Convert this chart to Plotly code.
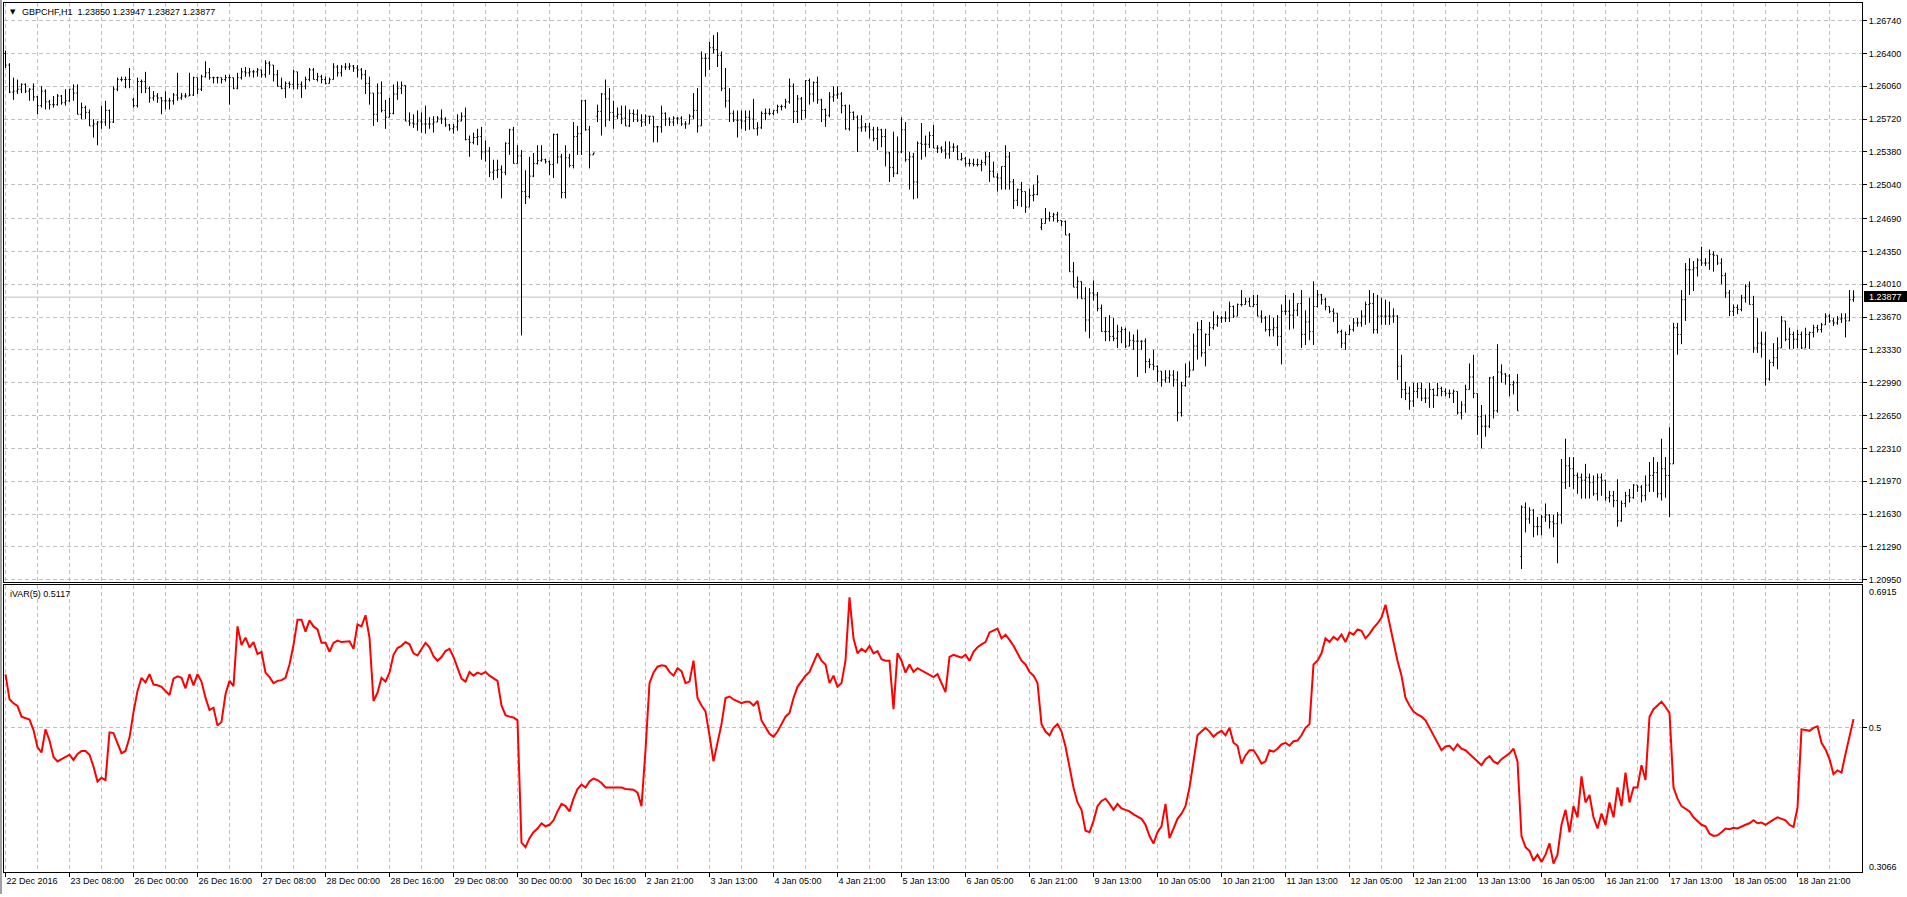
import plotly.graph_objects as go

W, H = 1907, 897

# ---------------- data ----------------
symbol_title = "GBPCHF,H1  1.23850 1.23947 1.23827 1.23877"
indicator_title = "iVAR(5) 0.5117"
last_price = 1.23877

x_tick_labels = ["22 Dec 2016", "23 Dec 08:00", "26 Dec 00:00", "26 Dec 16:00", "27 Dec 08:00",
                 "28 Dec 00:00", "28 Dec 16:00", "29 Dec 08:00", "30 Dec 00:00", "30 Dec 16:00",
                 "2 Jan 21:00", "3 Jan 13:00", "4 Jan 05:00", "4 Jan 21:00", "5 Jan 13:00",
                 "6 Jan 05:00", "6 Jan 21:00", "9 Jan 13:00", "10 Jan 05:00", "10 Jan 21:00",
                 "11 Jan 13:00", "12 Jan 05:00", "12 Jan 21:00", "13 Jan 13:00", "16 Jan 05:00",
                 "16 Jan 21:00", "17 Jan 13:00", "18 Jan 05:00", "18 Jan 21:00"]

price_tick_labels = ["1.26740", "1.26400", "1.26060", "1.25720", "1.25380", "1.25040",
                     "1.24690", "1.24350", "1.24010", "1.23670", "1.23330", "1.22990",
                     "1.22650", "1.22310", "1.21970", "1.21630", "1.21290", "1.20950"]

ind_max, ind_mid, ind_min = 0.6915, 0.5, 0.3066

open_ = [
    1.2640, 1.2628, 1.2600, 1.2601, 1.2603, 1.2608, 1.2601, 1.2603, 1.2595, 1.2586,
    1.2601, 1.2590, 1.2587, 1.2587, 1.2596, 1.2589, 1.2591, 1.2603, 1.2599, 1.2577,
    1.2584, 1.2579, 1.2565, 1.2567, 1.2569, 1.2569, 1.2581, 1.2569, 1.2603, 1.2613,
    1.2613, 1.2613, 1.2592, 1.2586, 1.2611, 1.2611, 1.2604, 1.2594, 1.2596, 1.2594,
    1.2591, 1.2591, 1.2591, 1.2597, 1.2594, 1.2596, 1.2596, 1.2597, 1.2615, 1.2603,
    1.2616, 1.2620, 1.2615, 1.2615, 1.2615, 1.2613, 1.2615, 1.2615, 1.2604, 1.2615,
    1.2621, 1.2620, 1.2621, 1.2621, 1.2623, 1.2618, 1.2630, 1.2628, 1.2618, 1.2606,
    1.2604, 1.2609, 1.2608, 1.2621, 1.2608, 1.2606, 1.2613, 1.2623, 1.2613, 1.2616,
    1.2613, 1.2609, 1.2613, 1.2626, 1.2620, 1.2626, 1.2626, 1.2627, 1.2625, 1.2623,
    1.2618, 1.2609, 1.2599, 1.2577, 1.2599, 1.2581, 1.2574, 1.2578, 1.2598, 1.2604,
    1.2607, 1.2570, 1.2568, 1.2567, 1.2570, 1.2567, 1.2567, 1.2567, 1.2569, 1.2573,
    1.2572, 1.2566, 1.2562, 1.2564, 1.2570, 1.2575, 1.2551, 1.2548, 1.2553, 1.2554,
    1.2538, 1.2539, 1.2517, 1.2519, 1.2520, 1.2517, 1.2547, 1.2561, 1.2526, 1.2534,
    1.2497, 1.2492, 1.2513, 1.2526, 1.2529, 1.2530, 1.2528, 1.2525, 1.2556, 1.2533,
    1.2496, 1.2532, 1.2524, 1.2554, 1.2557, 1.2591, 1.2561, 1.2535, 1.2575, 1.2580,
    1.2598, 1.2593, 1.2579, 1.2575, 1.2577, 1.2573, 1.2565, 1.2578, 1.2577, 1.2571,
    1.2569, 1.2575, 1.2575, 1.2564, 1.2564, 1.2578, 1.2572, 1.2569, 1.2573, 1.2573,
    1.2567, 1.2567, 1.2575, 1.2581, 1.2565, 1.2635, 1.2635, 1.2646, 1.2644, 1.2638,
    1.2604, 1.2591, 1.2578, 1.2571, 1.2571, 1.2570, 1.2574, 1.2572, 1.2562, 1.2563,
    1.2578, 1.2578, 1.2578, 1.2581, 1.2585, 1.2585, 1.2590, 1.2606, 1.2580, 1.2593,
    1.2581, 1.2612, 1.2598, 1.2610, 1.2592, 1.2582, 1.2576, 1.2595, 1.2597, 1.2598,
    1.2586, 1.2562, 1.2579, 1.2574, 1.2563, 1.2564, 1.2564, 1.2561, 1.2552, 1.2561,
    1.2554, 1.2537, 1.2522, 1.2516, 1.2538, 1.2561, 1.2530, 1.2533, 1.2507, 1.2547,
    1.2546, 1.2546, 1.2555, 1.2542, 1.2542, 1.2540, 1.2536, 1.2543, 1.2543, 1.2530,
    1.2531, 1.2526, 1.2526, 1.2525, 1.2525, 1.2527, 1.2533, 1.2518, 1.2512, 1.2511,
    1.2523, 1.2533, 1.2507, 1.2488, 1.2499, 1.2497, 1.2481, 1.2493, 1.2494, 1.2460,
    1.2464, 1.2469, 1.2471, 1.2473, 1.2467, 1.2466, 1.2452, 1.2414, 1.2398, 1.2404,
    1.2386, 1.2364, 1.2392, 1.2390, 1.2376, 1.2352, 1.2352, 1.2347, 1.2345, 1.2352,
    1.2354, 1.2337, 1.2343, 1.2342, 1.2342, 1.2342, 1.2321, 1.2318, 1.2316, 1.2311,
    1.2302, 1.2304, 1.2307, 1.2302, 1.2268, 1.2296, 1.2305, 1.2312, 1.2337, 1.2354,
    1.2330, 1.2349, 1.2356, 1.2359, 1.2366, 1.2366, 1.2366, 1.2378, 1.2368, 1.2380,
    1.2380, 1.2383, 1.2378, 1.2380, 1.2368, 1.2366, 1.2354, 1.2354, 1.2356, 1.2347,
    1.2373, 1.2373, 1.2369, 1.2374, 1.2381, 1.2349, 1.2362, 1.2352, 1.2378, 1.2390,
    1.2385, 1.2378, 1.2373, 1.2371, 1.2352, 1.2340, 1.2349, 1.2354, 1.2361, 1.2361,
    1.2368, 1.2380, 1.2381, 1.2354, 1.2368, 1.2368, 1.2368, 1.2368, 1.2368, 1.2316,
    1.2292, 1.2288, 1.2280, 1.2290, 1.2293, 1.2283, 1.2283, 1.2292, 1.2286, 1.2293,
    1.2290, 1.2288, 1.2288, 1.2290, 1.2268, 1.2276, 1.2292, 1.2305, 1.2288, 1.2264,
    1.2254, 1.2254, 1.2304, 1.2270, 1.2310, 1.2308, 1.2306, 1.2297, 1.2299, 1.2119,
    1.2170, 1.2158, 1.2167, 1.2150, 1.2150, 1.2160, 1.2162, 1.2155, 1.2153, 1.2162,
    1.2196, 1.2213, 1.2210, 1.2203, 1.2201, 1.2198, 1.2201, 1.2196, 1.2184, 1.2201,
    1.2198, 1.2180, 1.2182, 1.2177, 1.2156, 1.2174, 1.2182, 1.2180, 1.2193, 1.2191,
    1.2182, 1.2193, 1.2203, 1.2206, 1.2184, 1.2210, 1.2203, 1.2215, 1.2356, 1.2349,
    1.2385, 1.2416, 1.2416, 1.2418, 1.2426, 1.2423, 1.2423, 1.2432, 1.2431, 1.2423,
    1.2410, 1.2392, 1.2373, 1.2377, 1.2375, 1.2387, 1.2399, 1.2380, 1.2335, 1.2340,
    1.2339, 1.2303, 1.2320, 1.2325, 1.2335, 1.2363, 1.2344, 1.2349, 1.2344, 1.2349,
    1.2335, 1.2349, 1.2351, 1.2356, 1.2354, 1.2359, 1.2368, 1.2363, 1.2361, 1.2365,
    1.2366, 1.2363, 1.2385,
]

high = [
    1.2643, 1.2630, 1.2615, 1.2613, 1.2609, 1.2609, 1.2604, 1.2609, 1.2596, 1.2606,
    1.2603, 1.2592, 1.2596, 1.2598, 1.2597, 1.2603, 1.2603, 1.2608, 1.2608, 1.2589,
    1.2586, 1.2582, 1.2572, 1.2570, 1.2586, 1.2591, 1.2582, 1.2606, 1.2615, 1.2616,
    1.2616, 1.2625, 1.2594, 1.2615, 1.2613, 1.2621, 1.2606, 1.2601, 1.2599, 1.2595,
    1.2601, 1.2594, 1.2599, 1.2620, 1.2599, 1.2599, 1.2620, 1.2616, 1.2615, 1.2618,
    1.2632, 1.2625, 1.2616, 1.2616, 1.2615, 1.2618, 1.2618, 1.2615, 1.2620, 1.2625,
    1.2626, 1.2625, 1.2623, 1.2625, 1.2623, 1.2633, 1.2632, 1.2628, 1.2623, 1.2615,
    1.2611, 1.2611, 1.2623, 1.2621, 1.2611, 1.2616, 1.2625, 1.2625, 1.2620, 1.2618,
    1.2616, 1.2615, 1.2630, 1.2628, 1.2628, 1.2630, 1.2630, 1.2628, 1.2628, 1.2625,
    1.2623, 1.2616, 1.2599, 1.2609, 1.2611, 1.2592, 1.2594, 1.2608, 1.2611, 1.2611,
    1.2607, 1.2579, 1.2577, 1.2581, 1.2579, 1.2586, 1.2574, 1.2575, 1.2575, 1.2582,
    1.2574, 1.2567, 1.2567, 1.2577, 1.2579, 1.2584, 1.2555, 1.2558, 1.2562, 1.2564,
    1.2550, 1.2543, 1.2530, 1.2530, 1.2524, 1.2548, 1.2562, 1.2564, 1.2545, 1.2540,
    1.2519, 1.2533, 1.2537, 1.2545, 1.2545, 1.2531, 1.2529, 1.2557, 1.2557, 1.2536,
    1.2545, 1.2536, 1.2569, 1.2565, 1.2592, 1.2592, 1.2565, 1.2537, 1.2587, 1.2599,
    1.2613, 1.2604, 1.2591, 1.2584, 1.2586, 1.2586, 1.2582, 1.2582, 1.2582, 1.2577,
    1.2577, 1.2575, 1.2575, 1.2565, 1.2586, 1.2579, 1.2574, 1.2575, 1.2574, 1.2575,
    1.2570, 1.2577, 1.2599, 1.2604, 1.2642, 1.2640, 1.2652, 1.2659, 1.2662, 1.2642,
    1.2625, 1.2604, 1.2581, 1.2581, 1.2581, 1.2581, 1.2581, 1.2593, 1.2569, 1.2580,
    1.2583, 1.2583, 1.2581, 1.2587, 1.2587, 1.2593, 1.2614, 1.2609, 1.2597, 1.2595,
    1.2612, 1.2614, 1.2611, 1.2616, 1.2593, 1.2583, 1.2600, 1.2606, 1.2606, 1.2600,
    1.2587, 1.2587, 1.2580, 1.2576, 1.2576, 1.2568, 1.2568, 1.2564, 1.2564, 1.2562,
    1.2562, 1.2538, 1.2559, 1.2554, 1.2574, 1.2569, 1.2538, 1.2537, 1.2549, 1.2568,
    1.2555, 1.2559, 1.2566, 1.2545, 1.2544, 1.2549, 1.2549, 1.2547, 1.2545, 1.2537,
    1.2533, 1.2531, 1.2531, 1.2531, 1.2530, 1.2538, 1.2538, 1.2528, 1.2516, 1.2523,
    1.2545, 1.2538, 1.2510, 1.2500, 1.2507, 1.2497, 1.2500, 1.2504, 1.2514, 1.2469,
    1.2480, 1.2476, 1.2475, 1.2476, 1.2467, 1.2467, 1.2454, 1.2424, 1.2409, 1.2404,
    1.2398, 1.2397, 1.2405, 1.2393, 1.2380, 1.2367, 1.2369, 1.2366, 1.2359, 1.2357,
    1.2356, 1.2352, 1.2349, 1.2354, 1.2343, 1.2345, 1.2324, 1.2333, 1.2317, 1.2311,
    1.2312, 1.2312, 1.2312, 1.2311, 1.2300, 1.2319, 1.2321, 1.2350, 1.2362, 1.2364,
    1.2350, 1.2362, 1.2373, 1.2369, 1.2368, 1.2373, 1.2383, 1.2379, 1.2381, 1.2395,
    1.2387, 1.2387, 1.2390, 1.2390, 1.2374, 1.2368, 1.2369, 1.2366, 1.2369, 1.2380,
    1.2390, 1.2385, 1.2392, 1.2381, 1.2395, 1.2374, 1.2387, 1.2404, 1.2395, 1.2391,
    1.2387, 1.2378, 1.2376, 1.2371, 1.2354, 1.2352, 1.2359, 1.2366, 1.2366, 1.2374,
    1.2383, 1.2395, 1.2392, 1.2390, 1.2387, 1.2385, 1.2383, 1.2376, 1.2369, 1.2328,
    1.2300, 1.2295, 1.2299, 1.2299, 1.2299, 1.2293, 1.2299, 1.2293, 1.2299, 1.2295,
    1.2293, 1.2292, 1.2292, 1.2290, 1.2280, 1.2297, 1.2319, 1.2328, 1.2288, 1.2276,
    1.2266, 1.2305, 1.2306, 1.2339, 1.2318, 1.2309, 1.2308, 1.2301, 1.2308, 1.2172,
    1.2175, 1.2170, 1.2168, 1.2160, 1.2162, 1.2174, 1.2163, 1.2162, 1.2165, 1.2220,
    1.2241, 1.2222, 1.2222, 1.2206, 1.2205, 1.2215, 1.2205, 1.2203, 1.2205, 1.2205,
    1.2198, 1.2187, 1.2187, 1.2199, 1.2177, 1.2186, 1.2189, 1.2194, 1.2193, 1.2193,
    1.2203, 1.2217, 1.2222, 1.2217, 1.2241, 1.2222, 1.2253, 1.2361, 1.2361, 1.2395,
    1.2423, 1.2428, 1.2425, 1.2428, 1.2440, 1.2428, 1.2437, 1.2435, 1.2431, 1.2428,
    1.2413, 1.2395, 1.2380, 1.2380, 1.2390, 1.2401, 1.2404, 1.2389, 1.2366, 1.2352,
    1.2352, 1.2323, 1.2340, 1.2346, 1.2368, 1.2363, 1.2356, 1.2352, 1.2354, 1.2352,
    1.2356, 1.2352, 1.2359, 1.2359, 1.2361, 1.2371, 1.2370, 1.2366, 1.2368, 1.2371,
    1.2371, 1.2395, 1.23947,
]

low = [
    1.2625, 1.2599, 1.2592, 1.2598, 1.2599, 1.2599, 1.2591, 1.2591, 1.2577, 1.2584,
    1.2582, 1.2582, 1.2584, 1.2586, 1.2587, 1.2586, 1.2590, 1.2591, 1.2577, 1.2572,
    1.2572, 1.2565, 1.2553, 1.2545, 1.2562, 1.2565, 1.2562, 1.2568, 1.2601, 1.2611,
    1.2604, 1.2604, 1.2584, 1.2584, 1.2599, 1.2599, 1.2589, 1.2591, 1.2589, 1.2577,
    1.2582, 1.2582, 1.2587, 1.2591, 1.2592, 1.2594, 1.2596, 1.2596, 1.2598, 1.2601,
    1.2615, 1.2613, 1.2609, 1.2609, 1.2609, 1.2611, 1.2587, 1.2603, 1.2603, 1.2613,
    1.2616, 1.2616, 1.2615, 1.2616, 1.2615, 1.2615, 1.2618, 1.2611, 1.2606, 1.2603,
    1.2594, 1.2604, 1.2603, 1.2603, 1.2594, 1.2603, 1.2611, 1.2613, 1.2611, 1.2609,
    1.2608, 1.2609, 1.2613, 1.2616, 1.2616, 1.2623, 1.2623, 1.2621, 1.2615, 1.2613,
    1.2598, 1.2587, 1.2565, 1.2569, 1.2579, 1.2562, 1.2574, 1.2577, 1.2592, 1.2598,
    1.2570, 1.2565, 1.2563, 1.2560, 1.2558, 1.2557, 1.2562, 1.2558, 1.2569, 1.2567,
    1.2564, 1.2560, 1.2557, 1.2560, 1.2570, 1.2550, 1.2533, 1.2546, 1.2545, 1.2530,
    1.2528, 1.2512, 1.2509, 1.2511, 1.2490, 1.2514, 1.2535, 1.2526, 1.2526, 1.2348,
    1.2484, 1.2490, 1.2512, 1.2525, 1.2528, 1.2526, 1.2514, 1.2511, 1.2526, 1.2490,
    1.2490, 1.2522, 1.2521, 1.2535, 1.2535, 1.2560, 1.2521, 1.2535, 1.2569, 1.2555,
    1.2564, 1.2570, 1.2562, 1.2572, 1.2567, 1.2565, 1.2564, 1.2569, 1.2569, 1.2564,
    1.2565, 1.2567, 1.2548, 1.2548, 1.2558, 1.2565, 1.2565, 1.2565, 1.2567, 1.2565,
    1.2562, 1.2567, 1.2572, 1.2558, 1.2565, 1.2616, 1.2623, 1.2640, 1.2626, 1.2601,
    1.2584, 1.2569, 1.2569, 1.2553, 1.2562, 1.2560, 1.2561, 1.2562, 1.2555, 1.2562,
    1.2571, 1.2576, 1.2576, 1.2578, 1.2581, 1.2583, 1.2588, 1.2568, 1.2568, 1.2571,
    1.2573, 1.2587, 1.2590, 1.2588, 1.2569, 1.2564, 1.2574, 1.2590, 1.2593, 1.2578,
    1.2561, 1.2560, 1.2571, 1.2538, 1.2559, 1.2559, 1.2552, 1.2549, 1.2540, 1.2543,
    1.2523, 1.2507, 1.2512, 1.2515, 1.2537, 1.2528, 1.2499, 1.2489, 1.2490, 1.2530,
    1.2533, 1.2542, 1.2542, 1.2537, 1.2537, 1.2531, 1.2531, 1.2538, 1.2530, 1.2529,
    1.2523, 1.2523, 1.2523, 1.2523, 1.2518, 1.2524, 1.2507, 1.2512, 1.2497, 1.2499,
    1.2499, 1.2499, 1.2479, 1.2482, 1.2481, 1.2475, 1.2481, 1.2487, 1.2493, 1.2457,
    1.2464, 1.2466, 1.2466, 1.2465, 1.2461, 1.2452, 1.2414, 1.2398, 1.2386, 1.2386,
    1.2352, 1.2345, 1.2384, 1.2373, 1.2352, 1.2342, 1.2342, 1.2342, 1.2335, 1.2340,
    1.2335, 1.2337, 1.2333, 1.2305, 1.2333, 1.2309, 1.2314, 1.2312, 1.2300, 1.2295,
    1.2299, 1.2299, 1.2295, 1.2259, 1.2264, 1.2295, 1.2305, 1.2312, 1.2323, 1.2326,
    1.2316, 1.2337, 1.2354, 1.2357, 1.2361, 1.2362, 1.2362, 1.2366, 1.2368, 1.2378,
    1.2380, 1.2378, 1.2378, 1.2368, 1.2361, 1.2352, 1.2347, 1.2347, 1.2337, 1.2318,
    1.2369, 1.2354, 1.2355, 1.2368, 1.2335, 1.2338, 1.2343, 1.2338, 1.2377, 1.2380,
    1.2374, 1.2371, 1.2362, 1.2350, 1.2335, 1.2333, 1.2349, 1.2352, 1.2357, 1.2357,
    1.2359, 1.2361, 1.2350, 1.2350, 1.2359, 1.2359, 1.2359, 1.2361, 1.2302, 1.2283,
    1.2281, 1.2271, 1.2274, 1.2283, 1.2280, 1.2278, 1.2273, 1.2273, 1.2285, 1.2285,
    1.2285, 1.2283, 1.2278, 1.2266, 1.2261, 1.2268, 1.2292, 1.2283, 1.2245, 1.2231,
    1.2243, 1.2252, 1.2262, 1.2268, 1.2299, 1.2297, 1.2285, 1.2287, 1.2270, 1.2106,
    1.2144, 1.2153, 1.2139, 1.2141, 1.2141, 1.2155, 1.2148, 1.2139, 1.2112, 1.2153,
    1.2189, 1.2191, 1.2189, 1.2184, 1.2179, 1.2179, 1.2179, 1.2182, 1.2177, 1.2182,
    1.2177, 1.2175, 1.2170, 1.2150, 1.2155, 1.2170, 1.2175, 1.2179, 1.2186, 1.2175,
    1.2177, 1.2186, 1.2186, 1.2180, 1.2177, 1.2180, 1.2160, 1.2215, 1.2328, 1.2339,
    1.2363, 1.2390, 1.2394, 1.2409, 1.2420, 1.2420, 1.2416, 1.2414, 1.2421, 1.2401,
    1.2387, 1.2368, 1.2368, 1.2370, 1.2373, 1.2382, 1.2380, 1.2330, 1.2330, 1.2325,
    1.2296, 1.2301, 1.2316, 1.2313, 1.2335, 1.2342, 1.2334, 1.2334, 1.2335, 1.2334,
    1.2335, 1.2334, 1.2346, 1.2351, 1.2351, 1.2359, 1.2361, 1.2358, 1.2359, 1.2361,
    1.2346, 1.2363, 1.23827,
]

close = [
    1.2628, 1.2600, 1.2601, 1.2603, 1.2608, 1.2601, 1.2603, 1.2595, 1.2586, 1.2601,
    1.2590, 1.2587, 1.2587, 1.2596, 1.2589, 1.2591, 1.2603, 1.2599, 1.2577, 1.2584,
    1.2579, 1.2565, 1.2567, 1.2569, 1.2569, 1.2581, 1.2569, 1.2603, 1.2613, 1.2613,
    1.2613, 1.2613, 1.2586, 1.2611, 1.2611, 1.2604, 1.2594, 1.2596, 1.2594, 1.2591,
    1.2591, 1.2591, 1.2597, 1.2594, 1.2596, 1.2596, 1.2597, 1.2615, 1.2603, 1.2616,
    1.2620, 1.2615, 1.2615, 1.2615, 1.2613, 1.2615, 1.2615, 1.2604, 1.2615, 1.2621,
    1.2620, 1.2621, 1.2621, 1.2623, 1.2618, 1.2630, 1.2628, 1.2618, 1.2606, 1.2604,
    1.2609, 1.2608, 1.2621, 1.2608, 1.2606, 1.2613, 1.2623, 1.2613, 1.2616, 1.2613,
    1.2609, 1.2613, 1.2626, 1.2620, 1.2626, 1.2626, 1.2627, 1.2625, 1.2623, 1.2618,
    1.2609, 1.2599, 1.2577, 1.2599, 1.2581, 1.2574, 1.2578, 1.2598, 1.2604, 1.2607,
    1.2570, 1.2568, 1.2567, 1.2570, 1.2567, 1.2567, 1.2567, 1.2569, 1.2573, 1.2572,
    1.2566, 1.2562, 1.2564, 1.2570, 1.2575, 1.2551, 1.2548, 1.2553, 1.2554, 1.2538,
    1.2539, 1.2517, 1.2519, 1.2520, 1.2517, 1.2547, 1.2561, 1.2526, 1.2534, 1.2497,
    1.2492, 1.2513, 1.2526, 1.2529, 1.2530, 1.2528, 1.2525, 1.2556, 1.2533, 1.2496,
    1.2532, 1.2524, 1.2554, 1.2557, 1.2591, 1.2561, 1.2535, 1.2537, 1.2580, 1.2598,
    1.2593, 1.2579, 1.2575, 1.2577, 1.2573, 1.2565, 1.2578, 1.2577, 1.2571, 1.2569,
    1.2575, 1.2575, 1.2564, 1.2564, 1.2578, 1.2572, 1.2569, 1.2573, 1.2573, 1.2567,
    1.2567, 1.2575, 1.2581, 1.2565, 1.2635, 1.2635, 1.2646, 1.2644, 1.2638, 1.2604,
    1.2591, 1.2578, 1.2571, 1.2571, 1.2570, 1.2574, 1.2572, 1.2562, 1.2563, 1.2578,
    1.2578, 1.2578, 1.2581, 1.2585, 1.2585, 1.2590, 1.2606, 1.2580, 1.2593, 1.2581,
    1.2612, 1.2598, 1.2610, 1.2592, 1.2582, 1.2576, 1.2595, 1.2597, 1.2598, 1.2586,
    1.2562, 1.2579, 1.2574, 1.2563, 1.2564, 1.2564, 1.2561, 1.2552, 1.2561, 1.2554,
    1.2537, 1.2522, 1.2516, 1.2538, 1.2561, 1.2530, 1.2533, 1.2507, 1.2547, 1.2546,
    1.2546, 1.2555, 1.2542, 1.2542, 1.2540, 1.2536, 1.2543, 1.2543, 1.2530, 1.2531,
    1.2526, 1.2526, 1.2525, 1.2525, 1.2527, 1.2533, 1.2518, 1.2512, 1.2511, 1.2523,
    1.2533, 1.2507, 1.2488, 1.2499, 1.2497, 1.2481, 1.2493, 1.2494, 1.2507, 1.2464,
    1.2469, 1.2471, 1.2473, 1.2467, 1.2466, 1.2452, 1.2414, 1.2398, 1.2404, 1.2386,
    1.2364, 1.2392, 1.2390, 1.2376, 1.2352, 1.2352, 1.2347, 1.2345, 1.2352, 1.2354,
    1.2337, 1.2343, 1.2342, 1.2342, 1.2342, 1.2321, 1.2318, 1.2316, 1.2311, 1.2302,
    1.2304, 1.2307, 1.2302, 1.2268, 1.2296, 1.2305, 1.2312, 1.2337, 1.2354, 1.2330,
    1.2349, 1.2356, 1.2359, 1.2366, 1.2366, 1.2366, 1.2378, 1.2368, 1.2380, 1.2380,
    1.2383, 1.2378, 1.2380, 1.2368, 1.2366, 1.2354, 1.2354, 1.2356, 1.2347, 1.2373,
    1.2373, 1.2369, 1.2374, 1.2381, 1.2349, 1.2362, 1.2352, 1.2378, 1.2390, 1.2385,
    1.2378, 1.2373, 1.2371, 1.2352, 1.2340, 1.2349, 1.2354, 1.2361, 1.2361, 1.2368,
    1.2380, 1.2381, 1.2354, 1.2368, 1.2368, 1.2368, 1.2368, 1.2368, 1.2316, 1.2292,
    1.2288, 1.2280, 1.2290, 1.2293, 1.2283, 1.2283, 1.2292, 1.2286, 1.2293, 1.2290,
    1.2288, 1.2288, 1.2290, 1.2268, 1.2276, 1.2292, 1.2305, 1.2288, 1.2264, 1.2254,
    1.2254, 1.2304, 1.2270, 1.2310, 1.2308, 1.2306, 1.2297, 1.2299, 1.2270, 1.2170,
    1.2158, 1.2167, 1.2150, 1.2150, 1.2160, 1.2162, 1.2155, 1.2153, 1.2162, 1.2196,
    1.2213, 1.2210, 1.2203, 1.2201, 1.2198, 1.2201, 1.2196, 1.2184, 1.2201, 1.2198,
    1.2180, 1.2182, 1.2177, 1.2156, 1.2174, 1.2182, 1.2180, 1.2193, 1.2191, 1.2182,
    1.2193, 1.2203, 1.2206, 1.2184, 1.2210, 1.2203, 1.2215, 1.2356, 1.2349, 1.2385,
    1.2416, 1.2416, 1.2418, 1.2426, 1.2423, 1.2423, 1.2432, 1.2431, 1.2423, 1.2410,
    1.2392, 1.2373, 1.2377, 1.2375, 1.2387, 1.2399, 1.2380, 1.2335, 1.2340, 1.2339,
    1.2303, 1.2320, 1.2325, 1.2335, 1.2363, 1.2344, 1.2349, 1.2344, 1.2349, 1.2335,
    1.2349, 1.2351, 1.2356, 1.2354, 1.2359, 1.2368, 1.2363, 1.2361, 1.2365, 1.2366,
    1.2363, 1.2385, 1.23877,
]

ivar = [
    0.5716, 0.5383, 0.533, 0.5294, 0.515, 0.513, 0.511, 0.497, 0.474, 0.467,
    0.498, 0.483, 0.461, 0.455, 0.458, 0.462, 0.464, 0.457, 0.465, 0.469,
    0.469, 0.464, 0.448, 0.428, 0.433, 0.430, 0.494, 0.493, 0.480, 0.466,
    0.469, 0.487, 0.521, 0.5495, 0.567, 0.561, 0.572, 0.558, 0.557, 0.555,
    0.5495, 0.544, 0.566, 0.569, 0.567, 0.553, 0.572, 0.557, 0.572, 0.562,
    0.5405, 0.524, 0.527, 0.503, 0.508, 0.545, 0.563, 0.556, 0.636, 0.611,
    0.621, 0.608, 0.615, 0.599, 0.602, 0.574, 0.568, 0.560, 0.563, 0.564,
    0.567, 0.585, 0.611, 0.645, 0.645, 0.629, 0.644, 0.636, 0.632, 0.614,
    0.614, 0.602, 0.614, 0.617, 0.615, 0.616, 0.616, 0.606, 0.6385, 0.636,
    0.651, 0.621, 0.536, 0.547, 0.567, 0.562, 0.574, 0.598, 0.607, 0.610,
    0.615, 0.612, 0.600, 0.597, 0.605, 0.614, 0.608, 0.596, 0.590, 0.595,
    0.603, 0.606, 0.595, 0.580, 0.566, 0.562, 0.575, 0.570, 0.574, 0.572,
    0.575, 0.570, 0.567, 0.563, 0.530, 0.517, 0.515, 0.514, 0.510, 0.346,
    0.340, 0.352, 0.360, 0.365, 0.372, 0.368, 0.370, 0.376, 0.388, 0.398,
    0.395, 0.388, 0.405, 0.418, 0.424, 0.420, 0.428, 0.432, 0.430, 0.426,
    0.420, 0.420, 0.421, 0.420, 0.420, 0.418, 0.418, 0.417, 0.413, 0.395,
    0.470, 0.560, 0.574, 0.582, 0.584, 0.583, 0.575, 0.570, 0.580, 0.576,
    0.560, 0.562, 0.590, 0.540, 0.530, 0.522, 0.490, 0.455, 0.480, 0.505,
    0.540, 0.542, 0.538, 0.535, 0.533, 0.535, 0.535, 0.530, 0.536, 0.510,
    0.500, 0.492, 0.488, 0.495, 0.505, 0.515, 0.520, 0.540, 0.555, 0.562,
    0.570, 0.575, 0.588, 0.600, 0.590, 0.585, 0.560, 0.570, 0.555, 0.560,
    0.590, 0.675, 0.620, 0.600, 0.606, 0.602, 0.610, 0.600, 0.603, 0.592,
    0.590, 0.590, 0.525, 0.600, 0.590, 0.574, 0.585, 0.575, 0.580, 0.577,
    0.574, 0.572, 0.568, 0.572, 0.560, 0.548, 0.595, 0.598, 0.596, 0.594,
    0.598, 0.590, 0.602, 0.608, 0.612, 0.615, 0.628, 0.630, 0.633, 0.620,
    0.625, 0.618, 0.610, 0.600, 0.590, 0.585, 0.575, 0.570, 0.560, 0.505,
    0.495, 0.490, 0.500, 0.505, 0.495, 0.475, 0.445, 0.420, 0.400, 0.390,
    0.362, 0.360, 0.375, 0.395, 0.402, 0.405, 0.398, 0.390, 0.398, 0.392,
    0.390, 0.388, 0.384, 0.381, 0.378, 0.370, 0.355, 0.345, 0.360, 0.368,
    0.398, 0.352, 0.366, 0.378, 0.385, 0.395, 0.420, 0.455, 0.490, 0.495,
    0.500, 0.495, 0.488, 0.493, 0.496, 0.490, 0.500, 0.480, 0.476, 0.452,
    0.463, 0.470, 0.470, 0.462, 0.452, 0.455, 0.470, 0.468, 0.472, 0.478,
    0.480, 0.476, 0.482, 0.483, 0.490, 0.500, 0.505, 0.585, 0.590, 0.600,
    0.620, 0.615, 0.622, 0.618, 0.625, 0.615, 0.628, 0.625, 0.632, 0.630,
    0.620, 0.626, 0.634, 0.640, 0.648, 0.665, 0.640, 0.615, 0.590, 0.570,
    0.540, 0.530, 0.522, 0.518, 0.515, 0.510, 0.500, 0.490, 0.480, 0.470,
    0.475, 0.476, 0.470, 0.478, 0.472, 0.470, 0.465, 0.460, 0.455, 0.450,
    0.458, 0.462, 0.455, 0.452, 0.458, 0.462, 0.466, 0.472, 0.455, 0.355,
    0.340, 0.335, 0.322, 0.330, 0.320, 0.330, 0.345, 0.318, 0.330, 0.370,
    0.390, 0.360, 0.395, 0.380, 0.435, 0.400, 0.410, 0.380, 0.365, 0.385,
    0.370, 0.400, 0.380, 0.420, 0.395, 0.440, 0.400, 0.420, 0.420, 0.450,
    0.430, 0.515, 0.525, 0.530, 0.535, 0.528, 0.520, 0.420, 0.405, 0.395,
    0.392, 0.388, 0.380, 0.375, 0.370, 0.368, 0.358, 0.355, 0.356, 0.360,
    0.365, 0.364, 0.366, 0.365, 0.368, 0.370, 0.372, 0.376, 0.372, 0.373,
    0.370, 0.374, 0.377, 0.380, 0.378, 0.376, 0.370, 0.367, 0.393, 0.498,
    0.497, 0.496, 0.500, 0.502, 0.480, 0.471, 0.458, 0.438, 0.443, 0.440,
    0.465, 0.487, 0.5117,
]

# ---------------- figure ----------------
bars = list(range(len(close)))
FONT = "Liberation Sans, Arial, sans-serif"
GRID = "#c0c0c0"
DASH = "4px,3px"


def pxx(p):
    return p / W


def pxy(p):
    return 1 - p / H


x_dom = [pxx(4), pxx(1862)]
x_rng = [-0.375, 464.125]
major = [16 * k for k in range(len(x_tick_labels))]
minor = [16 * k + 8 for k in range(len(x_tick_labels))]
price_vals = [float(t) for t in price_tick_labels]

fig = go.Figure()
fig.add_trace(go.Ohlc(
    x=bars, open=open_, high=high, low=low, close=close,
    increasing=dict(line=dict(color="black", width=1)),
    decreasing=dict(line=dict(color="black", width=1)),
    tickwidth=0.3, xaxis="x", yaxis="y", hoverinfo="skip", showlegend=False,
))
fig.add_trace(go.Scatter(
    x=bars, y=ivar, mode="lines", line=dict(color="#ff0000", width=2),
    xaxis="x2", yaxis="y2", hoverinfo="skip", showlegend=False,
))

common_x = dict(
    domain=x_dom, range=x_rng, tickvals=major, showgrid=True,
    gridcolor=GRID, griddash=DASH, gridwidth=1, zeroline=False,
    showline=True, linecolor="black", linewidth=1, mirror=True,
    minor=dict(tickvals=minor, showgrid=True, gridcolor=GRID, griddash=DASH,
               gridwidth=1, ticks=""),
    fixedrange=True,
)

fig.update_layout(
    width=W, height=H, margin=dict(l=0, r=0, t=0, b=0),
    paper_bgcolor="white", plot_bgcolor="white", showlegend=False,
    font=dict(family=FONT, size=9, color="black"),
    xaxis=dict(**common_x, anchor="y", showticklabels=False, ticks="",
               rangeslider=dict(visible=False)),
    xaxis2=dict(**common_x, anchor="y2", ticktext=x_tick_labels, ticks="outside",
                ticklen=4, tickcolor="black", tickwidth=1,
                ticklabelposition="outside right",
                tickfont=dict(family=FONT, size=9, color="black")),
    yaxis=dict(domain=[pxy(584), pxy(3)], range=[1.20926, 1.26923], side="right",
               anchor="x", tickvals=price_vals, ticktext=price_tick_labels,
               ticks="outside", ticklen=4, tickcolor="black", tickwidth=1,
               showgrid=True, gridcolor=GRID, griddash=DASH, gridwidth=1,
               zeroline=False, showline=True, linecolor="black", linewidth=1,
               mirror=True, fixedrange=True,
               tickfont=dict(family=FONT, size=9, color="black")),
    yaxis2=dict(domain=[pxy(875), pxy(587)], range=[ind_min, ind_max], side="right",
                anchor="x2", tickvals=[ind_mid], ticktext=[str(ind_mid)],
                ticks="outside", ticklen=4, tickcolor="black", tickwidth=1,
                showgrid=True, gridcolor=GRID, griddash=DASH, gridwidth=1,
                zeroline=False, showline=True, linecolor="black", linewidth=1,
                mirror=True, fixedrange=True,
                tickfont=dict(family=FONT, size=9, color="black")),
)

shapes = [
    # current price line
    dict(type="line", xref="paper", yref="y", x0=x_dom[0], x1=x_dom[1],
         y0=last_price, y1=last_price, line=dict(color="#c0c0c0", width=1), layer="below"),
    # price label box
    dict(type="rect", xref="paper", yref="paper", x0=pxx(1864), x1=pxx(1907),
         y0=pxy(303), y1=pxy(292), fillcolor="black", line=dict(width=0)),
    # window frame on the left
    dict(type="rect", xref="paper", yref="paper", x0=0, x1=pxx(2),
         y0=pxy(897), y1=1, fillcolor="#a0a0a0", line=dict(width=0)),
]
fig.update_layout(shapes=shapes)

ann = [
    dict(text="▼", x=pxx(8), y=pxy(12), xanchor="left", yanchor="middle",
         font=dict(size=7, color="black", family="DejaVu Sans")),
    dict(text=symbol_title.replace("  ", "&nbsp; "), x=pxx(20), y=pxy(12),
         xanchor="left", yanchor="middle", font=dict(size=9, color="black", family=FONT)),
    dict(text=indicator_title, x=pxx(8), y=pxy(596), xanchor="left", yanchor="middle",
         font=dict(size=9, color="black", family=FONT)),
    dict(text=f"{last_price:.5f}", x=pxx(1867), y=pxy(297.5), xanchor="left",
         yanchor="middle", font=dict(size=9, color="white", family=FONT)),
    dict(text=f"{ind_max}", x=pxx(1867), y=pxy(594), xanchor="left", yanchor="middle",
         font=dict(size=9, color="black", family=FONT)),
    dict(text=f"{ind_min}", x=pxx(1867), y=pxy(870), xanchor="left", yanchor="middle",
         font=dict(size=9, color="black", family=FONT)),
]
for a in ann:
    a.update(xref="paper", yref="paper", showarrow=False)
fig.update_layout(annotations=ann)

fig.write_html(
    "out.html",
    config={"displayModeBar": False, "staticPlot": True},
    post_script="document.body.style.margin='0';document.body.style.overflow='hidden';",
)
